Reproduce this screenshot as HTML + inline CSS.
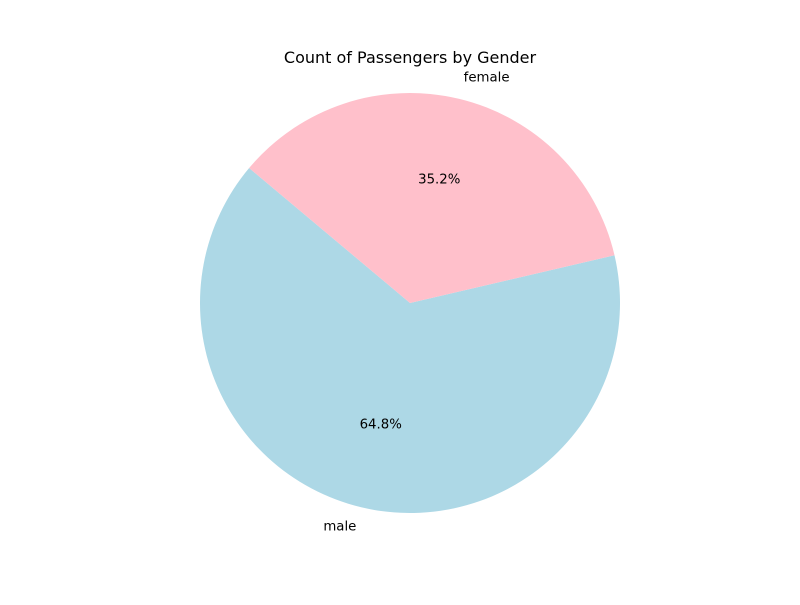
<!DOCTYPE html>
<html><head><meta charset="utf-8"><style>
body{margin:0;background:#fff;}
svg text{font-family:"DejaVu Sans","Liberation Sans",sans-serif;}
</style></head><body>
<svg id="chart" width="800" height="600" viewBox="0 0 800 600" xmlns="http://www.w3.org/2000/svg">
<rect width="800" height="600" fill="#fff"/>
<text x="410" y="63" font-size="16" text-anchor="middle" fill="#000">Count of Passengers by Gender</text>
<g id="slices"></g>
</svg>
<script>
const categories = ["male", "female"];
const counts = [577, 314];
const colors = ["#add8e6", "#ffc0cb"];
const cx = 410, cy = 303, r = 210, startAngle = 140;
const svg = document.getElementById('slices');
const NS = "http://www.w3.org/2000/svg";
const total = counts.reduce((a,b)=>a+b,0);
let a0 = startAngle;
function pt(deg, rad){ const t = deg*Math.PI/180; return [cx + rad*Math.cos(t), cy - rad*Math.sin(t)]; }
counts.forEach((v,i)=>{
  const sweep = v/total*360;
  const a1 = a0 + sweep;
  const p0 = pt(a0, r), p1 = pt(a1, r);
  const large = sweep > 180 ? 1 : 0;
  const path = document.createElementNS(NS,'path');
  path.setAttribute('d', `M${cx},${cy} L${p0[0]},${p0[1]} A${r},${r} 0 ${large} 0 ${p1[0]},${p1[1]} Z`);
  path.setAttribute('fill', colors[i]);
  
  
  svg.appendChild(path);
  const mid = a0 + sweep/2;
  const lp = pt(mid, r*1.1);
  const lbl = document.createElementNS(NS,'text');
  lbl.setAttribute('x', lp[0]); lbl.setAttribute('y', lp[1]+3);
  lbl.setAttribute('font-size', '13.3');
  lbl.setAttribute('text-anchor', Math.cos(mid*Math.PI/180) < 0 ? 'end' : 'start');
  lbl.textContent = categories[i];
  
  
  svg.appendChild(lbl);
  const pp = pt(mid, r*0.6);
  const pct = document.createElementNS(NS,'text');
  pct.setAttribute('x', pp[0]); pct.setAttribute('y', pp[1]+3);
  pct.setAttribute('font-size', '13.3');
  pct.setAttribute('text-anchor', 'middle');
  pct.textContent = (v/total*100).toFixed(1) + '%';
  
  
  svg.appendChild(pct);
  a0 = a1;
});
</script>
</body></html>
